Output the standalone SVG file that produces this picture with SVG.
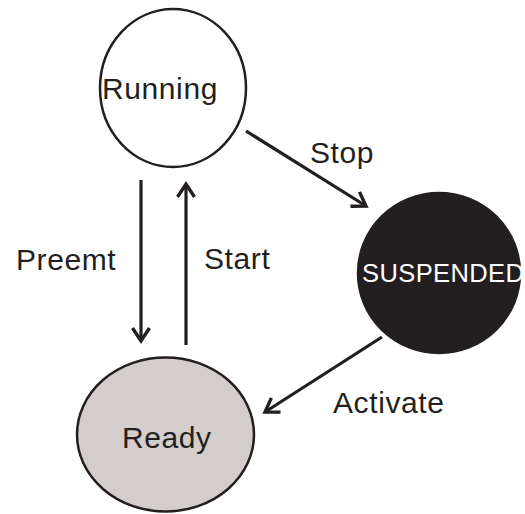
<svg xmlns="http://www.w3.org/2000/svg" width="525" height="514" viewBox="0 0 525 514">
  <style>
    .lbl { font-family: "Liberation Sans", Arial, sans-serif; font-size: 30px; fill: #231f20; letter-spacing: 0.6px; }
    .state { stroke: #231f20; stroke-width: 2.5; }
    .edge { stroke: #231f20; stroke-width: 3.2; fill: none; marker-end: url(#head); }
  </style>
  <defs>
    <marker id="head" markerUnits="userSpaceOnUse" markerWidth="22" markerHeight="22" viewBox="-15 -11 18 22" refX="0" refY="0" orient="auto">
      <path d="M-13,-8.5 L0,0 L-13,8.5" fill="none" stroke="#231f20" stroke-width="3.4" stroke-linejoin="miter"/>
    </marker>
  </defs>
  <rect width="525" height="514" fill="#ffffff"/>

  <g id="connectors">
    <line class="edge" x1="246" y1="131" x2="366" y2="206"/>
    <line class="edge" x1="141" y1="180" x2="141" y2="341"/>
    <line class="edge" x1="186" y1="345" x2="186" y2="184"/>
    <line class="edge" x1="382" y1="337" x2="265" y2="412"/>
  </g>

  <g id="running">
    <ellipse class="state" cx="173" cy="88" rx="73" ry="79" fill="#ffffff"/>
    <text class="lbl" x="102" y="99">Running</text>
  </g>

  <g id="suspended">
    <ellipse class="state" cx="439" cy="273" rx="81" ry="80" fill="#231f20"/>
    <text x="362" y="282" font-family="Liberation Sans, Arial, sans-serif" font-size="25.5" fill="#ffffff" letter-spacing="0.4">SUSPENDED</text>
  </g>

  <g id="ready">
    <ellipse class="state" cx="165.5" cy="434.5" rx="88.5" ry="77" fill="#d3cecc"/>
    <text class="lbl" x="122" y="448">Ready</text>
  </g>

  <g id="labels">
    <text class="lbl" x="310" y="163">Stop</text>
    <text class="lbl" x="16" y="270">Preemt</text>
    <text class="lbl" x="204" y="269">Start</text>
    <text class="lbl" x="333" y="413">Activate</text>
  </g>
</svg>
